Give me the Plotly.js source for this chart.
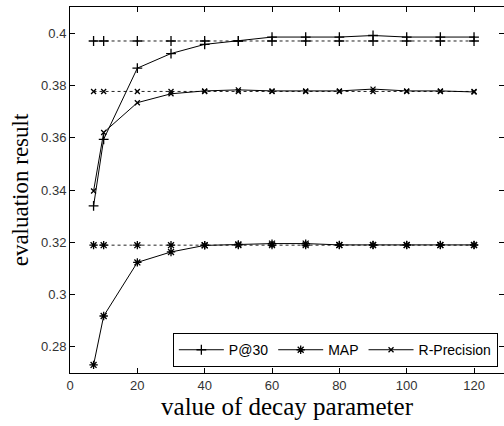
<!DOCTYPE html>
<html><head><meta charset="utf-8">
<script src="https://cdn.plot.ly/plotly-3.0.1.min.js"></script>
<style>html,body{margin:0;padding:0;overflow:hidden;background:#fff}</style>
</head><body><div id="chart"></div>
<script>
const decay = [7, 10, 20, 30, 40, 50, 60, 70, 80, 90, 100, 110, 120];
const p30 = [0.3339, 0.3594, 0.3866, 0.3922, 0.3957, 0.3970, 0.3985, 0.3985, 0.3985, 0.3991, 0.3985, 0.3985, 0.3985];
const map = [0.2731, 0.2918, 0.3123, 0.3163, 0.3188, 0.3192, 0.3195, 0.3195, 0.3190, 0.3190, 0.3190, 0.3190, 0.3190];
const rprec = [0.3396, 0.3620, 0.3734, 0.3768, 0.3779, 0.3783, 0.3779, 0.3779, 0.3779, 0.3786, 0.3779, 0.3779, 0.3775];
const p30Base = 0.397;
const mapBase = 0.3189;
const rprecBase = 0.3777;
const seriesNames = ['P@30', 'MAP', 'R-Precision'];
const xTicks = [0, 20, 40, 60, 80, 100, 120];
const yTicks = [0.28, 0.3, 0.32, 0.34, 0.36, 0.38, 0.4];

const syms = ['cross-thin-open', 'asterisk-open', 'x-thin-open'];
const sizes = [7, 7, 5];
const solid = [p30, map, rprec];
const bases = [p30Base, mapBase, rprecBase];
const traces = [];
for (let i = 0; i < 3; i++) {
  traces.push({
    x: decay, y: decay.map(() => bases[i]), mode: 'lines+markers', showlegend: false,
    line: {color: '#222', width: 1, dash: 'dot'},
    marker: {symbol: syms[i], size: sizes[i], color: '#000', line: {color: '#000', width: 1.3}}
  });
}
for (let i = 0; i < 3; i++) {
  traces.push({
    x: decay, y: solid[i], mode: 'lines+markers', name: seriesNames[i],
    line: {color: '#000', width: 1},
    marker: {symbol: syms[i], size: sizes[i], color: '#000', line: {color: '#000', width: 1.3}}
  });
}
// invisible helper for right-side inward ticks
traces.push({x: [decay[0]], y: [p30[0]], yaxis: 'y2', mode: 'markers', showlegend: false, hoverinfo: 'skip', marker: {opacity: 0}});

const tickFont = {family: 'Liberation Sans, Arial', size: 13, color: '#333'};
const layout = {
  width: 504, height: 426,
  margin: {l: 70, r: 0, t: 7, b: 53},
  paper_bgcolor: '#fff', plot_bgcolor: '#fff',
  xaxis: {
    range: [0, 128.9], tickvals: xTicks,
    showgrid: false, zeroline: false, showline: true, linecolor: '#000', linewidth: 1,
    mirror: 'ticks', ticks: 'inside', ticklen: 5, tickcolor: '#000', tickfont: tickFont,
    title: {text: 'value of decay parameter', font: {family: 'Liberation Serif, Times New Roman', size: 25, color: '#000'}, standoff: 3}
  },
  yaxis: {
    range: [0.27, 0.41], tickvals: yTicks,
    showgrid: false, zeroline: false, showline: true, linecolor: '#000', linewidth: 1,
    mirror: false, ticks: 'inside', ticklen: 5, tickcolor: '#000', tickfont: tickFont,
    title: {text: 'evaluation result', font: {family: 'Liberation Serif, Times New Roman', size: 23, color: '#000'}, standoff: 6}
  },
  yaxis2: {
    overlaying: 'y', side: 'right', matches: 'y', range: [0.27, 0.41], tickvals: yTicks,
    showgrid: false, zeroline: false, showline: false, showticklabels: false,
    ticks: 'inside', ticklen: 5, tickcolor: '#000'
  },
  legend: {
    orientation: 'h', x: 0.237, y: 0.016, xanchor: 'left', yanchor: 'bottom',
    bgcolor: '#fff', bordercolor: '#000', borderwidth: 1,
    font: {family: 'Liberation Sans, Arial', size: 14, color: '#000'},
    itemwidth: 45, tracegroupgap: 0
  },
  showlegend: true
};
Plotly.newPlot('chart', traces, layout, {staticPlot: true});
</script></body></html>
